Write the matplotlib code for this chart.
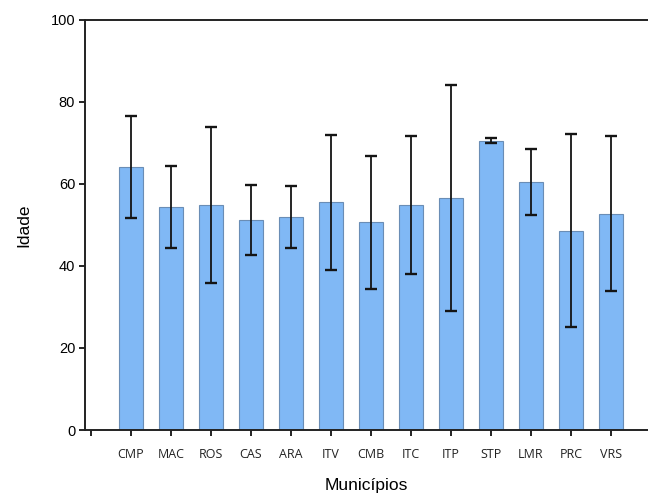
import numpy as np
import matplotlib
matplotlib.use("Agg")
import matplotlib.pyplot as plt

municipios = ["CMP", "MAC", "ROS", "CAS", "ARA", "ITV", "CMB",
              "ITC", "ITP", "STP", "LMR", "PRC", "VRS"]
media = [64.1, 54.3, 54.8, 51.2, 51.9, 55.5, 50.7, 54.8, 56.6, 70.5, 60.5, 48.6, 52.8]
desvio = [12.4, 10.0, 19.0, 8.5, 7.5, 16.5, 16.2, 16.8, 27.5, 0.6, 8.0, 23.5, 19.0]

fig = plt.figure(figsize=(6.48, 4.97), dpi=100)
ax = fig.add_axes([0.131, 0.1348, 0.869, 0.825])

x = np.arange(1, len(municipios) + 1)
ax.bar(x, media, width=0.6, color="#80b8f5", edgecolor="#6a8db5", linewidth=0.8)
ax.errorbar(x, media, yerr=desvio, fmt="none", ecolor="#141414",
            elinewidth=1.3, capsize=4.3, capthick=1.7)

ax.set_xlim(-0.15, 13.925)
ax.set_ylim(0, 100)
ax.set_yticks([0, 20, 40, 60, 80, 100])
ax.set_xticks(np.arange(0, len(municipios) + 1))
ax.set_xticklabels([""] + municipios, fontsize=9, family="Open Sans", color="#222222")
ax.tick_params(axis="y", labelsize=10.5, length=4, width=1.2, direction="out", pad=3)
ax.tick_params(axis="x", length=4, width=1.2, direction="out", pad=9)
for t in ax.get_yticklabels():
    t.set_family("Liberation Sans")

ax.spines["right"].set_visible(False)
for s in ["left", "bottom", "top"]:
    ax.spines[s].set_linewidth(1.4)
    ax.spines[s].set_color("#222222")

ax.set_ylabel("Idade", fontsize=12.5, family="Liberation Sans", labelpad=14)
ax.set_xlabel("Municípios", fontsize=12.5, family="Liberation Sans", labelpad=12)

fig.savefig("out.png", dpi=100)
